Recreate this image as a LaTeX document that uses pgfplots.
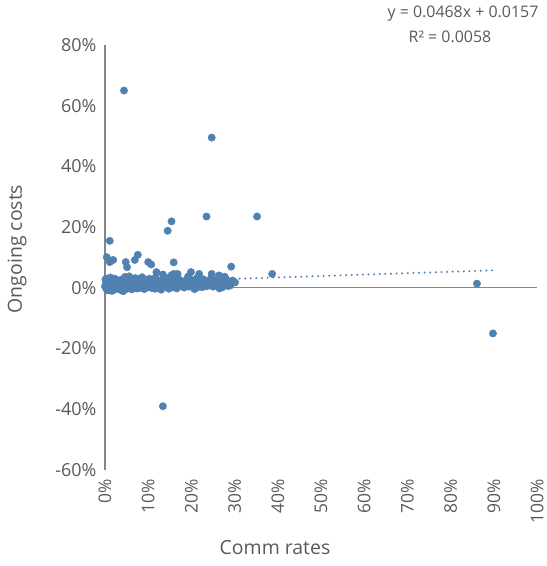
\documentclass[border=0pt]{standalone}
\usepackage{fontspec}
\setmainfont{Open Sans}
\usepackage{pgfplots}
\pgfplotsset{compat=1.18}
\definecolor{pt}{RGB}{80,129,177}
\definecolor{txt}{RGB}{89,89,89}
\definecolor{ax}{RGB}{134,134,134}
\begin{document}
\begin{tikzpicture}[x=1bp,y=1bp]
\path[use as bounding box] (0,0) rectangle (547,-566);
\begin{axis}[
  at={(105bp,-470bp)}, anchor=south west,
  scale only axis, width=432bp, height=425bp,
  xmin=0, xmax=100, ymin=-60, ymax=80,
  separate axis lines,
  axis y line*=left, axis x line*=bottom,
  x axis line style={draw=none},
  y axis line style={draw=ax, line width=1.2bp},
  tick style={draw=none},
  major tick length=0pt,
  xtick={0,10,...,100},
  xticklabels={0\%,10\%,20\%,30\%,40\%,50\%,60\%,70\%,80\%,90\%,100\%},
  xticklabel style={yshift=-6bp, rotate=90, anchor=east, inner ysep=0.5bp, font=\fontsize{17.5}{20}\selectfont, text=txt},
  ytick={-60,-40,...,80},
  yticklabels={-60\%,-40\%,-20\%,0\%,20\%,40\%,60\%,80\%},
  yticklabel style={font=\fontsize{18}{20}\selectfont, text=txt, xshift=-5bp},
  clip=false,
]
\draw[ax, line width=1.2bp] (axis cs:0,0) -- (axis cs:100,0);
\addplot[only marks, mark=*, mark size=3.7bp, mark options={draw=pt, fill=pt}] coordinates {
(0.0,0.5) (0.2,1.2) (0.3,-0.3) (0.4,2.1) (0.5,0.8) (0.6,3.1) (0.7,-0.8) (0.8,1.6) (0.9,0.2) (1.0,2.6)
(1.1,-0.5) (1.2,1.0) (1.3,3.4) (1.4,0.4) (1.5,1.9) (1.6,-1.0) (1.7,0.9) (1.8,2.3) (1.9,0.1) (2.0,1.4)
(2.1,3.0) (2.2,-0.4) (2.3,0.7) (2.4,1.8) (2.5,0.3) (2.6,2.5) (2.7,-0.2) (2.8,1.1) (2.9,0.6) (3.0,2.0)
(3.2,0.0) (3.3,1.5) (3.5,-0.6) (3.6,0.9) (3.8,2.7) (3.9,0.4) (4.0,1.3) (4.2,-1.1) (4.3,0.2) (4.5,1.7)
(4.6,3.6) (4.8,0.5) (5.0,1.0) (5.1,-0.3) (5.3,2.2) (5.5,0.8) (5.6,3.8) (5.8,0.1) (6.0,1.5) (6.2,-0.5)
(6.3,0.6) (6.5,2.4) (6.7,1.1) (6.9,0.3) (7.0,3.2) (7.2,0.9) (7.4,-0.2) (7.5,1.8) (7.7,0.4) (7.9,2.9)
(8.0,1.2) (8.2,0.0) (8.4,1.6) (8.6,3.5) (8.8,0.7) (9.0,2.1) (9.1,-0.4) (9.3,1.0) (9.5,0.5) (9.7,2.6)
(9.9,1.4) (10.1,0.2) (10.3,3.0) (10.5,0.8) (10.7,1.9) (10.9,-0.1) (11.1,1.2) (11.3,2.4) (11.5,0.6) (11.7,3.4)
(11.9,0.9) (12.1,1.7) (12.3,0.1) (12.5,2.2) (12.7,0.5) (12.9,1.3) (13.0,-0.6) (13.2,0.8) (13.4,2.7) (13.6,1.1)
(13.8,0.3) (14.0,1.9) (14.2,3.3) (14.4,0.6) (14.6,1.4) (14.8,-0.3) (15.0,2.3) (15.2,0.9) (15.4,4.2) (15.6,0.2)
(15.8,1.6) (16.0,2.9) (16.2,0.7) (16.4,1.2) (16.6,-0.2) (16.8,3.1) (17.0,0.5) (17.2,1.8) (17.5,2.5) (17.8,0.8)
(18.0,1.4) (18.3,0.1) (18.6,2.1) (18.9,1.0) (19.2,3.7) (19.5,0.4) (19.8,1.7) (20.1,2.6) (20.4,0.9) (20.7,-0.4)
(21.0,1.5) (21.3,3.2) (21.6,0.6) (21.9,2.0) (22.2,1.1) (22.5,0.2) (22.8,2.8) (23.1,1.3) (23.5,0.5) (23.8,2.2)
(24.2,1.0) (24.6,3.4) (25.0,0.4) (25.3,1.7) (25.7,2.6) (26.0,1.2) (26.5,-0.2) (27.0,2.0) (27.5,1.0) (28.0,2.9)
(28.5,0.6) (29.0,1.5) (29.5,2.3) (30.1,1.8)
(0.1,2.8) (0.3,1.7) (0.5,-0.6) (0.8,2.9) (1.2,0.3) (1.6,1.4) (2.0,-0.7) (2.4,2.9) (2.9,1.7) (3.4,0.6)
(4.1,2.5) (4.7,-0.1) (5.4,1.2) (6.1,2.8) (6.8,0.0) (7.6,1.3) (8.3,2.5) (9.2,0.3) (10.0,1.6) (10.8,2.7)
(11.6,-0.3) (12.4,1.5) (13.3,0.4) (14.1,2.6) (15.1,1.1) (15.9,0.3) (17.1,2.0) (18.1,0.6) (19.0,2.4) (20.0,1.2)
(21.2,0.0) (22.0,2.5) (23.0,0.8) (24.0,1.6) (25.5,0.9) (27.2,0.2)
(4.4,65.0) (24.7,49.5) (23.5,23.5) (35.2,23.5) (15.4,21.9) (14.5,18.8) (1.1,15.5) (0.4,10.1) (1.9,9.2) (1.1,8.5)
(4.8,8.5) (5.1,6.8) (6.9,9.2) (7.6,10.9) (10.0,8.5) (10.7,7.7) (15.9,8.4) (29.2,7.0) (11.9,5.2) (13.4,4.4)
(15.9,4.6) (16.8,4.6) (19.9,5.2) (21.8,4.6) (24.7,4.6) (26.4,4.1) (27.7,3.7) (26.4,0.8) (29.0,0.8) (29.5,2.4)
(38.7,4.6) (86.1,1.4) (89.8,-15.0) (13.4,-39.0)
};
\addplot[draw=pt, line width=2.2bp, line cap=round, dash pattern=on 0.01bp off 5.6bp] coordinates {(0,1.57) (89.8,5.77)};
\end{axis}
\node[text=txt, font=\fontsize{19.5}{22}\selectfont] at (275,-548) {Comm rates};
\node[text=txt, font=\fontsize{19.5}{22}\selectfont, rotate=90] at (17,-249) {Ongoing costs};
\node[text=txt, font=\fontsize{16}{18}\selectfont] at (463,-14) {y = 0.0468x + 0.0157};
\node[text=txt, font=\fontsize{16}{18}\selectfont] at (450,-37) {R² = 0.0058};
\end{tikzpicture}
\end{document}
